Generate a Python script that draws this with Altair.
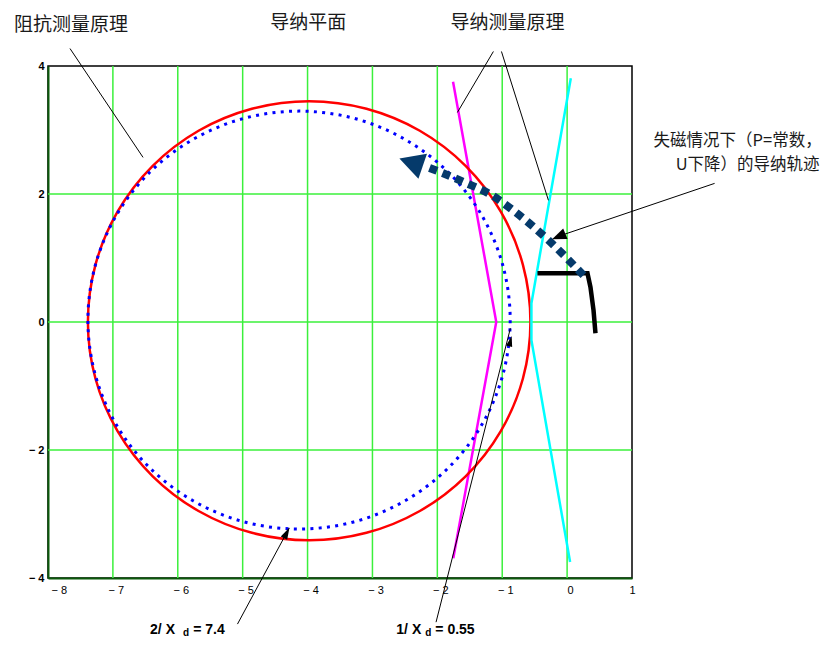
import altair as alt
import pandas as pd

# ---------------- axes ----------------
x_ticks = [-8, -7, -6, -5, -4, -3, -2, -1, 0, 1]
x_tick_labels = ["− 8", "− 7", "− 6", "− 5", "− 4", "− 3", "− 2", "− 1", "0", "1"]
y_ticks = [-4, -2, 0, 2, 4]
y_tick_labels = ["− 4", "− 2", "0", "2", "4"]
x_grid = [-7, -6, -5, -4, -3, -2, -1, 0]
y_grid = [-2, 0, 2]

# ---------------- curves ----------------
# red circle (impedance principle)
red_x = [-0.565, -0.681, -1.022, -1.564, -2.270, -3.092, -3.975, -4.858, -5.680, -6.386, -6.928, -7.269,
         -7.385, -7.269, -6.928, -6.386, -5.680, -4.858, -3.975, -3.092, -2.270, -1.564, -1.022, -0.681]
red_y = [0.0, 0.893, 1.725, 2.440, 2.988, 3.332, 3.450, 3.332, 2.988, 2.440, 1.725, 0.893,
         0.0, -0.883, -1.705, -2.411, -2.953, -3.294, -3.410, -3.294, -2.953, -2.411, -1.705, -0.883]
# blue dotted circle
blue_x = [-0.877, -0.988, -1.313, -1.830, -2.504, -3.289, -4.131, -4.973, -5.758, -6.432, -6.949, -7.274,
          -7.385, -7.274, -6.949, -6.432, -5.758, -4.973, -4.131, -3.289, -2.504, -1.830, -1.313, -0.988]
blue_y = [0.03, 0.875, 1.663, 2.339, 2.857, 3.184, 3.295, 3.184, 2.857, 2.339, 1.663, 0.875,
          0.03, -0.815, -1.603, -2.279, -2.797, -3.124, -3.235, -3.124, -2.797, -2.279, -1.603, -0.815]
# magenta and cyan admittance boundaries
magenta_x = [-1.758, -1.092, -1.754]
magenta_y = [3.755, 0.0, -3.69]
cyan_x = [0.057, -0.550, -0.550, 0.046]
cyan_y = [3.81, 0.293, -0.285, -3.75]
# black operating trace
trace_x = [-0.457, 0.314, 0.360, 0.407, 0.437]
trace_y = [0.761, 0.761, 0.543, 0.184, -0.176]
# navy admittance locus during loss of excitation
locus_x = [0.252, -0.303, -0.812, -1.182, -1.583, -1.984, -2.185]
locus_y = [0.730, 1.292, 1.729, 1.994, 2.182, 2.354, 2.432]
locus_head = [(-2.405, 2.494)]

# ---------------- annotations ----------------
lead_imp = ([-7.661, -6.535], [4.273, 2.572])
lead_adm1 = ([-1.136, -1.691], [4.227, 3.274])
lead_adm2 = ([-1.012, -0.288], [4.227, 1.901])
lead_loe = ([2.273, -0.180], [2.166, 1.323])
lead_loe_head = [(-0.129, 1.335)]
lead_2xd = ([-5.080, -4.283], [-4.720, -3.220])
lead_2xd_head = [(-4.321, -3.293)]
lead_1xd = ([-2.020, -0.874], [-4.690, -0.098])
lead_1xd_head = [(-0.874, -0.300)]

title_texts = ["阻抗测量原理", "导纳平面", "导纳测量原理"]
title_x = [-7.645, -3.990, -0.920]
title_y = [4.640, 4.679, 4.679]
loe_texts = ["失磁情况下（P=常数，", "U下降）的导纳轨迹"]
loe_x = [2.627, 2.782]
loe_y = [2.822, 2.447]
xd_main_texts = ["2/ X", "= 7.4", "1/ X", "= 0.55"]
xd_main_x = [-6.427, -5.763, -2.632, -2.031]
xd_main_y = [-4.812, -4.812, -4.812, -4.812]
xd_sub_texts = ["d", "d"]
xd_sub_x = [-5.918, -2.185]
xd_sub_y = [-4.859, -4.859]


def frame(xs_, ys_):
    return pd.DataFrame({"x": xs_, "y": ys_, "i": list(range(len(xs_)))})


def label_expr(vals, labels):
    e = "''"
    for v, l in reversed(list(zip(vals, labels))):
        e = f"datum.value == {v} ? '{l}' : ({e})"
    return e


xs = alt.Scale(domain=[-8, 1], nice=False, zero=False)
ys = alt.Scale(domain=[-4, 4], nice=False, zero=False)
xaxis = alt.Axis(values=x_ticks, labelExpr=label_expr(x_ticks, x_tick_labels), grid=False, ticks=False,
                 domainColor="#0b5a0b", domainWidth=2, labelFont="Liberation Sans", labelFontSize=11,
                 labelColor="black", labelPadding=6, labelOffset=3, title=None)
yaxis = alt.Axis(values=y_ticks, labelExpr=label_expr(y_ticks, y_tick_labels), grid=False, ticks=False,
                 domainColor="#0b5a0b", domainWidth=2, labelFont="Liberation Sans", labelFontSize=11,
                 labelFontWeight="bold", labelColor="black", labelPadding=4, title=None)
X = alt.X("x:Q", scale=xs, axis=xaxis, title=None)
Y = alt.Y("y:Q", scale=ys, axis=yaxis, title=None)
O = alt.Order("i:Q")

GREEN = "#3bf03b"
vgrid = alt.Chart(pd.DataFrame({"x": x_grid})).mark_rule(color=GREEN, strokeWidth=1.5).encode(x=X)
hgrid = alt.Chart(pd.DataFrame({"y": y_grid})).mark_rule(color=GREEN, strokeWidth=1.5).encode(y=Y)


def line(xs_, ys_, **kw):
    return alt.Chart(frame(xs_, ys_)).mark_line(**kw).encode(x=X, y=Y, order=O)


red = line(red_x, red_y, color="#ff0000", strokeWidth=2.5, interpolate="cardinal-closed")
blue = line(blue_x, blue_y, color="#0000ff", strokeWidth=3, strokeDash=[3, 5.3], strokeCap="butt",
            interpolate="cardinal-closed")
magenta = line(magenta_x, magenta_y, color="#ff00ff", strokeWidth=2.5)
cyan = line(cyan_x, cyan_y, color="#00ffff", strokeWidth=2.5)
trace = line(trace_x, trace_y, color="black", strokeWidth=4.5)
NAVY = "#053a6b"
locus = line(locus_x, locus_y, color=NAVY, strokeWidth=8, strokeDash=[8, 6], strokeCap="butt",
             interpolate="monotone")


def head(pts, size, angle, color, shape):
    d = pd.DataFrame({"x": [p[0] for p in pts], "y": [p[1] for p in pts]})
    return alt.Chart(d).mark_point(shape=shape, filled=True, size=size, angle=angle, color=color,
                                   opacity=1, strokeWidth=0).encode(x=X, y=Y)


locus_arrow = head(locus_head, 700, 288.8, NAVY, "M0,-0.93L-1,0.93L1,0.93Z")

leads = [line(a, b, color="black", strokeWidth=1) for a, b in
         [lead_imp, lead_adm1, lead_adm2, lead_loe, lead_2xd, lead_1xd]]
heads = [
    head(lead_loe_head, 207, 247.5, "black", "M0,-1L-0.8,1L0.8,1Z"),
    head(lead_2xd_head, 144, 27.5, "black", "M0,-1L-0.6,1L0.6,1Z"),
    head(lead_1xd_head, 110, 14.3, "black", "M0,-1L-0.6,1L0.6,1Z"),
]

CJK = "Noto Sans CJK SC"
titles = alt.Chart(pd.DataFrame({"x": title_x, "y": title_y, "t": title_texts})).mark_text(
    font=CJK, fontSize=19, color="#1a1a1a", align="center", baseline="middle").encode(x=X, y=Y, text="t:N")
loe = alt.Chart(pd.DataFrame({"x": loe_x, "y": loe_y, "t": loe_texts})).mark_text(
    font=CJK, fontSize=16.5, color="#1a1a1a", align="center", baseline="middle").encode(x=X, y=Y, text="t:N")
xd_main = alt.Chart(pd.DataFrame({"x": xd_main_x, "y": xd_main_y, "t": xd_main_texts})).mark_text(
    font="Liberation Sans", fontSize=14, fontWeight="bold", color="black", align="left",
    baseline="middle").encode(x=X, y=Y, text="t:N")
xd_sub = alt.Chart(pd.DataFrame({"x": xd_sub_x, "y": xd_sub_y, "t": xd_sub_texts})).mark_text(
    font="Liberation Sans", fontSize=10, fontWeight="bold", color="black", align="left",
    baseline="middle").encode(x=X, y=Y, text="t:N")

chart = alt.layer(
    vgrid, hgrid, magenta, red, blue, cyan, trace, locus, locus_arrow, *leads, *heads,
    titles, loe, xd_main, xd_sub
).properties(
    width=584, height=512,
    padding={"left": 40, "top": 58, "right": 190, "bottom": 60},
    autosize=alt.AutoSizeParams(type="none"),
).configure_view(stroke="black", strokeWidth=1.5)

chart.save("out.html", embed_options={"renderer": "svg", "actions": False})
